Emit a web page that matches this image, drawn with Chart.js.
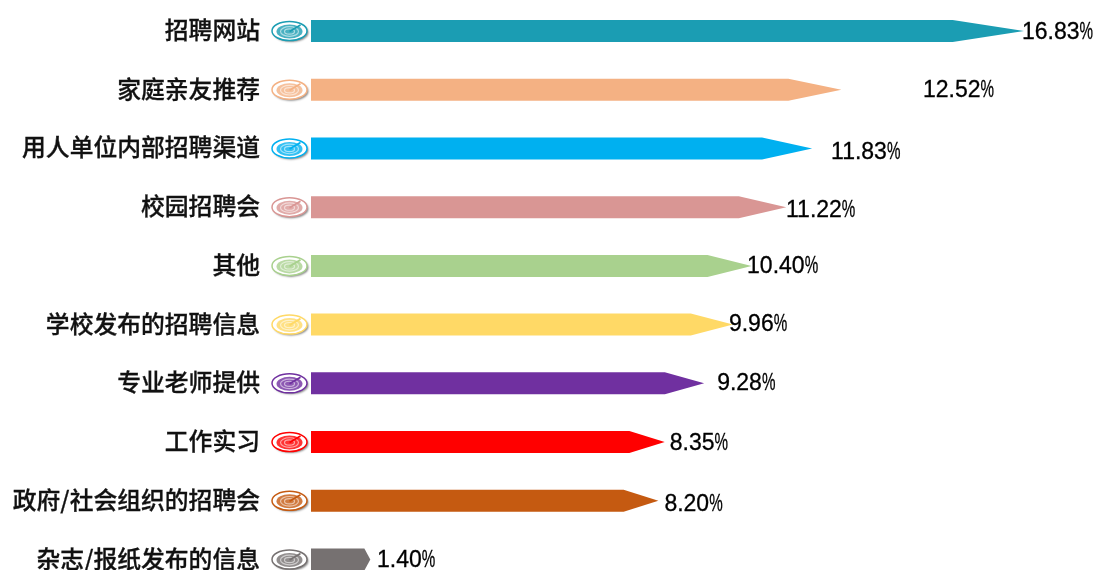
<!DOCTYPE html>
<html>
<head>
<meta charset="utf-8">
<title>招聘渠道</title>
<script src="https://cdn.jsdelivr.net/npm/chart.js@4/dist/chart.umd.min.js"></script>
<style>
  html, body { margin: 0; padding: 0; background: #fff; overflow: hidden; }
  canvas { display: block; }
</style>
</head>
<body>
<canvas id="channelCanvas" width="1096" height="570"></canvas>
<script>
const categories = ['招聘网站', '家庭亲友推荐', '用人单位内部招聘渠道', '校园招聘会', '其他', '学校发布的招聘信息', '专业老师提供', '工作实习', '政府/社会组织的招聘会', '杂志/报纸发布的信息'];
const shares = [16.83, 12.52, 11.83, 11.22, 10.40, 9.96, 9.28, 8.35, 8.20, 1.40];
const colors = ['#1B9DB3', '#F4B183', '#00B0F0', '#D99694', '#A9D18E', '#FFD966', '#7030A0', '#FF0000', '#C55A11', '#767171'];

// the value labels do not all sit right at the tip, these are the gaps in px
const labelGaps = [-2, 81.6, 18.9, -0.3, -4.5, -4, 13, 5, 6, 6.7];
const labelShifts = [2, 1, 4, 3, 1, 0, 0, 2, 4, 1];

// small target icon left of every bar
function drawIcon(ctx, cx, cy, color) {
    ctx.save();
    ctx.shadowColor = 'rgba(0,0,0,0.45)';
    ctx.shadowBlur = 2;
    ctx.shadowOffsetX = 1.5;
    ctx.shadowOffsetY = 1.5;
    ctx.fillStyle = '#fff';
    ctx.beginPath();
    ctx.ellipse(cx, cy, 17.5, 9.5, 0, 0, Math.PI * 2);
    ctx.fill();
    ctx.restore();

    ctx.save();
    ctx.strokeStyle = color;
    ctx.fillStyle = color;
    ctx.lineWidth = 1.5;
    ctx.beginPath();
    ctx.ellipse(cx, cy, 17.5, 9.5, 0, 0, Math.PI * 2);
    ctx.stroke();
    // inner disc with paler rings on it
    ctx.globalAlpha = 0.8;
    ctx.beginPath();
    ctx.ellipse(cx, cy + 0.5, 13, 7, 0, 0, Math.PI * 2);
    ctx.fill();
    ctx.globalAlpha = 0.55;
    ctx.strokeStyle = '#fff';
    ctx.lineWidth = 1.2;
    ctx.beginPath();
    ctx.ellipse(cx, cy + 0.5, 9, 4.8, 0, 0, Math.PI * 2);
    ctx.stroke();
    ctx.beginPath();
    ctx.ellipse(cx, cy + 0.5, 5, 2.6, 0, 0, Math.PI * 2);
    ctx.stroke();
    ctx.globalAlpha = 1;
    // the dart
    ctx.strokeStyle = color;
    ctx.lineWidth = 1.8;
    ctx.beginPath();
    ctx.moveTo(cx, cy + 0.5);
    ctx.lineTo(cx + 11, cy - 6);
    ctx.stroke();
    ctx.restore();
}

// draws the pointed bars, icons and value labels on top of the real bar elements
const arrowBars = {
    id: 'arrowBars',
    afterDatasetsDraw(chart) {
        const ctx = chart.ctx;
        const bars = chart.getDatasetMeta(0).data;
        bars.forEach((bar, i) => {
            const half = bar.height / 2;
            const length = bar.x - bar.base;
            const neck = bar.x - length * 0.1;

            ctx.fillStyle = colors[i];
            ctx.beginPath();
            ctx.moveTo(bar.base, bar.y - half);
            ctx.lineTo(neck, bar.y - half);
            ctx.lineTo(bar.x, bar.y);
            ctx.lineTo(neck, bar.y + half);
            ctx.lineTo(bar.base, bar.y + half);
            ctx.closePath();
            ctx.fill();

            drawIcon(ctx, 289.5, bar.y, colors[i]);

            const number = shares[i].toFixed(2);
            const x = bar.x + labelGaps[i];
            const y = bar.y + labelShifts[i];
            ctx.fillStyle = '#000';
            ctx.strokeStyle = '#000';
            ctx.lineWidth = 0.3;
            ctx.textAlign = 'left';
            ctx.textBaseline = 'middle';
            ctx.font = '23px "Liberation Sans"';
            ctx.fillText(number, x, y);
            ctx.strokeText(number, x, y);
            const w = ctx.measureText(number).width;
            ctx.fillText('%', x + w, y, 13.5);
            ctx.strokeText('%', x + w, y, 13.5);
        });
    }
};

new Chart(document.getElementById('channelCanvas').getContext('2d'), {
    type: 'bar',
    data: {
        labels: categories,
        datasets: [{
            data: shares,
            backgroundColor: 'rgba(0,0,0,0)',
            barThickness: 22,
            clip: false
        }]
    },
    options: {
        indexAxis: 'y',
        responsive: false,
        animation: false,
        layout: { padding: { top: 31, bottom: 10.5, left: 0, right: 0 } },
        plugins: { legend: { display: false }, tooltip: { enabled: false } },
        scales: {
            x: {
                display: false,
                min: 0,
                max: 18.53
            },
            y: {
                offset: false,
                afterFit(scale) {
                    // the tick padding would otherwise also be added above and below the axis
                    scale.width = 311;
                    scale.paddingTop = 0;
                    scale.paddingBottom = 0;
                },
                border: { display: false },
                grid: { display: false, drawTicks: false },
                ticks: {
                    autoSkip: false,
                    padding: 51,
                    labelOffset: -1,
                    color: '#111',
                    textStrokeColor: '#111',
                    textStrokeWidth: 0.3,
                    font: { family: '"Noto Sans CJK SC"', size: 23.8, weight: '500' }
                }
            }
        }
    },
    plugins: [arrowBars]
});
</script>
</body>
</html>
